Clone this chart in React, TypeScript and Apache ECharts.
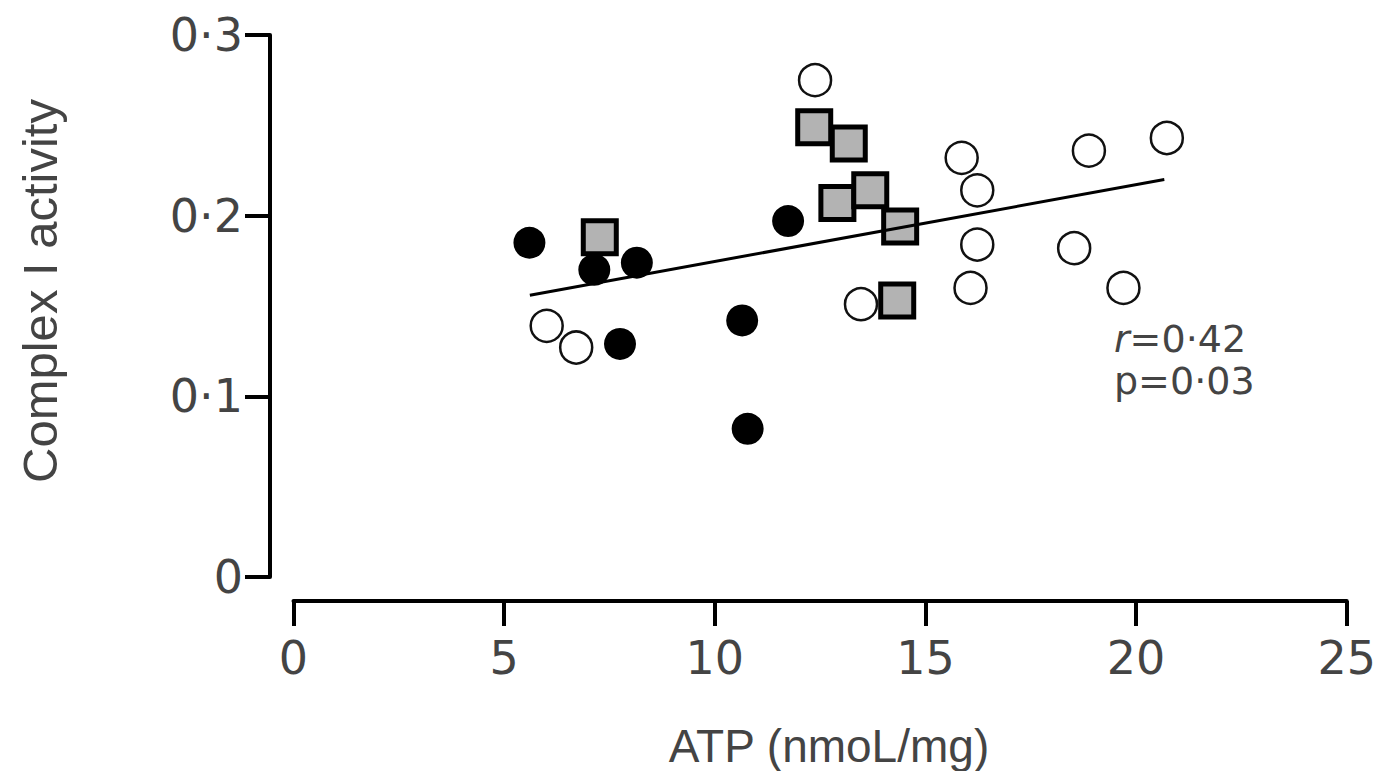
import React, { useEffect, useRef } from 'react';
import * as echarts from 'echarts';

// ATP (nmoL/mg) vs Complex I activity
const filledX = [5.6, 7.14, 8.15, 7.75, 10.65, 10.78, 11.74];
const filledY = [0.185, 0.17, 0.174, 0.129, 0.142, 0.082, 0.197];

const openX = [6.01, 6.71, 12.38, 13.47, 15.86, 16.23, 16.23, 16.07, 18.53, 18.88, 19.7, 20.73];
const openY = [0.139, 0.127, 0.275, 0.151, 0.232, 0.214, 0.184, 0.16, 0.182, 0.236, 0.16, 0.243];

const squareX = [7.27, 12.36, 13.18, 12.91, 13.69, 14.4, 14.33];
const squareY = [0.188, 0.249, 0.24, 0.207, 0.214, 0.194, 0.153];

const fitX = [5.61, 20.67];
const fitY = [0.156, 0.22];

const yTickLabels = ['0', '0·1', '0·2', '0·3'];
const xTickLabels = ['0', '5', '10', '15', '20', '25'];

const xName = 'ATP (nmoL/mg)';
const yName = 'Complex I activity';
const rLabel = '{i|r}=0·42';
const pLabel = 'p=0·03';

const zip = (xs: number[], ys: number[]) => xs.map((x, i) => [x, ys[i]]);

const textColor = '#444';

export default function App() {
  const ref = useRef<HTMLDivElement>(null);
  useEffect(() => {
    const chart = echarts.init(ref.current!, null, { renderer: 'svg' });
    chart.setOption({
      animation: false,
      backgroundColor: '#fff',
      grid: { left: 293.5, right: 32, top: 35, bottom: 194 },
      xAxis: {
        type: 'value',
        min: 0,
        max: 25,
        interval: 5,
        offset: 24,
        axisLine: { onZero: false, lineStyle: { color: '#000', width: 4 } },
        axisTick: { length: 25, lineStyle: { color: '#000', width: 4 } },
        axisLabel: {
          margin: 34,
          fontSize: 46,
          fontFamily: 'DejaVu Sans',
          color: textColor,
          formatter: (v: number) => xTickLabels[Math.round(v / 5)],
        },
        splitLine: { show: false },
      },
      yAxis: {
        type: 'value',
        min: 0,
        max: 0.3,
        interval: 0.1,
        offset: 23.5,
        axisLine: { onZero: false, lineStyle: { color: '#000', width: 4 } },
        axisTick: { length: 25, lineStyle: { color: '#000', width: 4 } },
        axisLabel: {
          margin: 27,
          fontSize: 46,
          fontFamily: 'DejaVu Sans',
          color: textColor,
          formatter: (v: number) => yTickLabels[Math.round(v * 10)],
        },
        splitLine: { show: false },
      },
      graphic: [
        {
          type: 'text',
          x: 829,
          y: 746,
          style: {
            text: xName,
            fontSize: 46,
            fontFamily: 'Liberation Sans',
            fill: textColor,
            align: 'center',
            verticalAlign: 'middle',
          },
        },
        {
          type: 'text',
          x: 40,
          y: 291,
          rotation: Math.PI / 2,
          style: {
            text: yName,
            fontSize: 49,
            fontFamily: 'Liberation Sans',
            fill: textColor,
            align: 'center',
            verticalAlign: 'middle',
          },
        },
        {
          type: 'text',
          left: 1114,
          top: 320,
          style: {
            text: rLabel,
            fontSize: 38,
            fontFamily: 'DejaVu Sans',
            fill: textColor,
            rich: { i: { fontStyle: 'italic', fontSize: 38, fontFamily: 'DejaVu Sans', fill: textColor } },
          },
        },
        {
          type: 'text',
          left: 1114,
          top: 362,
          style: { text: pLabel, fontSize: 38, fontFamily: 'DejaVu Sans', fill: textColor },
        },
      ],
      series: [
        {
          type: 'line',
          data: zip(fitX, fitY),
          symbol: 'none',
          lineStyle: { color: '#000', width: 3 },
          silent: true,
        },
        {
          type: 'scatter',
          data: zip(openX, openY),
          symbol: 'circle',
          symbolSize: 32,
          itemStyle: { color: '#fff', borderColor: '#111', borderWidth: 2.5, opacity: 1 },
        },
        {
          type: 'scatter',
          data: zip(filledX, filledY),
          symbol: 'circle',
          symbolSize: 32,
          itemStyle: { color: '#000', opacity: 1 },
        },
        {
          type: 'scatter',
          data: zip(squareX, squareY),
          symbol: 'rect',
          symbolSize: 33,
          itemStyle: { color: '#b3b3b3', borderColor: '#000', borderWidth: 5, opacity: 1 },
        },
      ],
    });
    return () => chart.dispose();
  }, []);
  return (
    <div
      ref={ref}
      style={{ position: 'fixed', left: 0, top: 0, width: 1379, height: 771, background: '#fff' }}
    />
  );
}
